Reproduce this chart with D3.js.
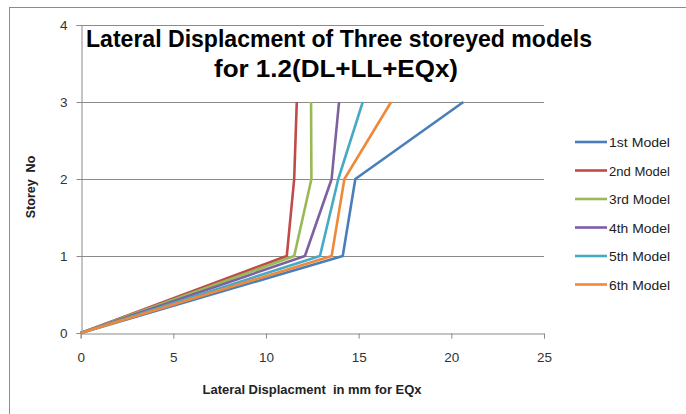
<!DOCTYPE html>
<html>
<head>
<meta charset="utf-8">
<script src="https://cdn.jsdelivr.net/npm/d3@7"></script>
<style>
  html, body { margin: 0; padding: 0; background: #fff; }
  svg { display: block; font-family: "Liberation Sans", Arial, sans-serif; }
  text { white-space: pre; }
</style>
</head>
<body>
<svg id="chart" width="686" height="414"></svg>
<script>
// ---- data ----
const storeys = [0, 1, 2, 3];
const seriesNames = ["1st Model", "2nd Model", "3rd Model", "4th Model", "5th Model", "6th Model"];
const model1 = [0, 14.14, 14.82, 20.65];
const model2 = [0, 11.12, 11.52, 11.66];
const model3 = [0, 11.52, 12.45, 12.43];
const model4 = [0, 12.1, 13.54, 13.94];
const model5 = [0, 12.91, 13.9, 15.22];
const model6 = [0, 13.54, 14.23, 16.75];
const seriesColors = ["#4A7EBB", "#BE4B48", "#98B954", "#7D60A0", "#46AAC5", "#F0883A"];
const xTicks = [0, 5, 10, 15, 20, 25];
const yTicks = [0, 1, 2, 3, 4];
const titleLines = ["Lateral Displacment of Three storeyed models", "for 1.2(DL+LL+EQx)"];
const xTitle = "Lateral Displacment  in mm for EQx";
const yTitle = "Storey  No";

const allSeries = [model1, model2, model3, model4, model5, model6];

const svg = d3.select("#chart");

// outer chart border (only left/top visible in the crop)
svg.append("rect").attr("x", 9.5).attr("y", 7.5).attr("width", 700).attr("height", 420)
  .attr("fill", "none").attr("stroke", "#8c8c8c").attr("stroke-width", 1);

const x = d3.scaleLinear().domain([0, 25]).range([80.7, 544]);
const y = d3.scaleLinear().domain([0, 4]).range([333, 25]);

// gridlines
svg.append("g").selectAll("line").data(yTicks.filter(d => d > 0)).join("line")
  .attr("x1", x(0)).attr("x2", x(25))
  .attr("y1", d => Math.round(y(d)) + 0.5).attr("y2", d => Math.round(y(d)) + 0.5)
  .attr("stroke", "#8a8a8a").attr("stroke-width", 1);

// x axis
const xAxis = svg.append("g").attr("transform", `translate(0,${Math.round(y(0)) + 0.5})`)
  .call(d3.axisBottom(x).tickValues(xTicks).tickSize(5).tickPadding(14).tickFormat(d3.format("d")));
xAxis.select(".domain").attr("stroke", "#8a8a8a");
xAxis.selectAll(".tick line").attr("stroke", "#8a8a8a");
xAxis.selectAll("text").attr("font-size", 13.5).attr("fill", "#333").attr("font-family", "Liberation Sans, Arial, sans-serif");

// y axis
const yAxis = svg.append("g").attr("transform", `translate(${Math.round(x(0)) + 0.5},0)`)
  .call(d3.axisLeft(y).tickValues(yTicks).tickSize(5).tickPadding(9).tickFormat(d3.format("d")));
yAxis.select(".domain").attr("stroke", "#8a8a8a");
yAxis.selectAll(".tick line").attr("stroke", "#8a8a8a");
yAxis.selectAll("text").attr("font-size", 13.5).attr("fill", "#333").attr("font-family", "Liberation Sans, Arial, sans-serif");

// lines
const line = d3.line().x(d => x(d[0])).y(d => y(d[1]));
allSeries.forEach((vals, i) => {
  svg.append("path")
    .datum(vals.map((v, k) => [v, storeys[k]]))
    .attr("d", line)
    .attr("fill", "none")
    .attr("stroke", seriesColors[i])
    .attr("stroke-width", 2.6)
    .attr("stroke-linejoin", "round");
});

// title
const titleG = svg.append("g");
const titleLen = [506, 244];
const titleY = [47, 77];
titleLines.forEach((t, i) => {
  titleG.append("text")
    .attr("x", i === 0 ? 339 : 336).attr("y", titleY[i])
    .attr("text-anchor", "middle")
    .attr("font-size", 24).attr("font-weight", "bold").attr("fill", "#000")
    .attr("textLength", titleLen[i]).attr("lengthAdjust", "spacingAndGlyphs")
    .text(t);
});

// axis titles
svg.append("text").attr("x", 312).attr("y", 394).attr("text-anchor", "middle")
  .attr("font-size", 12.5).attr("font-weight", "bold").attr("fill", "#222")
  .attr("textLength", 219).attr("lengthAdjust", "spacingAndGlyphs")
  .text(xTitle);
svg.append("text").attr("transform", "translate(35,187) rotate(-90)").attr("text-anchor", "middle")
  .attr("font-size", 12.5).attr("font-weight", "bold").attr("fill", "#222")
  .text(yTitle);

// legend
const legend = svg.append("g");
seriesNames.forEach((name, i) => {
  const ly = 142 + i * 28.5;
  legend.append("line").attr("x1", 575).attr("x2", 607).attr("y1", ly).attr("y2", ly)
    .attr("stroke", seriesColors[i]).attr("stroke-width", 2.6);
  legend.append("text").attr("x", 609).attr("y", ly + 5)
    .attr("font-size", 13.5).attr("fill", "#222")
    .attr("textLength", 61).attr("lengthAdjust", "spacingAndGlyphs")
    .text(name);
});
</script>
</body>
</html>
